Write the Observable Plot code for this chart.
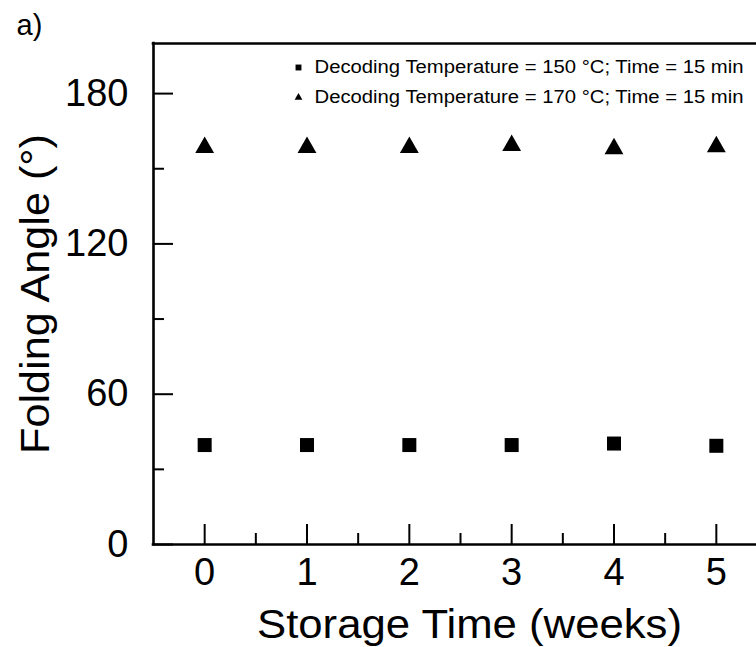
<!DOCTYPE html>
<html><head><meta charset="utf-8">
<script src="https://cdn.jsdelivr.net/npm/d3@7"></script>
<script src="https://cdn.jsdelivr.net/npm/@observablehq/plot@0.6"></script>
<style>
html,body{margin:0;padding:0;background:#fff;overflow:hidden;}
#wrap{position:relative;width:756px;height:647px;overflow:hidden;font-family:"Liberation Sans",Arial,sans-serif;}
#wrap svg{max-width:none !important;}
</style></head><body><div id="wrap"></div>
<script>
// ---- data ----
const weeks = [0, 1, 2, 3, 4, 5];
const angle150 = [39.7, 39.7, 39.7, 39.7, 40.3, 39.4];
const angle170 = [158.5, 158.5, 158.5, 159.3, 158.0, 158.8];
const seriesLabels = [
  "Decoding Temperature = 150 \u00B0C; Time = 15 min",
  "Decoding Temperature = 170 \u00B0C; Time = 15 min"
];
const xTicks = [0, 1, 2, 3, 4, 5];
const xMinorTicks = [0.5, 1.5, 2.5, 3.5, 4.5, 5.5];
const yTicks = [0, 60, 120, 180];
const yMinorTicks = [30, 90, 150];
const xTitle = "Storage Time (weeks)";
const yTitle = "Folding Angle (\u00B0)";
const panelTag = "a)";

// ---- layout ----
const W = 767, H = 647, mL = 153, mR = 0, mT = 43, mB = 103;
const xDom = [-0.5, 5.5], yDom = [0, 200];
const pxX = (W - mL - mR) / (xDom[1] - xDom[0]);
const pxY = (H - mT - mB) / (yDom[1] - yDom[0]);
const xAt = px => xDom[0] + (px - mL) / pxX;
const yAt = px => yDom[0] + (H - mB - px) / pxY;

const pts150 = weeks.map((w, i) => ({w, v: angle150[i]}));
const pts170 = weeks.map((w, i) => ({w, v: angle170[i]}));
const legend = [
  {label: seriesLabels[0], symbol: "square", r: 6.4, py: 67},
  {label: seriesLabels[1], symbol: "triangle", r: 4.8, py: 97}
];

const majLen = 20, minLen = 11;
const F = "Liberation Sans, Arial, sans-serif";

const chart = Plot.plot({
  width: W, height: H,
  marginLeft: mL, marginRight: mR, marginTop: mT, marginBottom: mB,
  style: {fontFamily: F, background: "white", color: "black", overflow: "visible", maxWidth: "none"},
  x: {domain: xDom, axis: null},
  y: {domain: yDom, axis: null},
  marks: [
    // tick labels
    Plot.axisX(xTicks, {tickSize: 0, tickPadding: 14, fontSize: 38, label: null}),
    Plot.axisY(yTicks, {tickSize: 0, tickPadding: 25, fontSize: 38, label: null}),
    // inward ticks
    Plot.ruleX(xTicks, {x: d => d, y1: yDom[0], y2: yDom[0] + majLen / pxY, stroke: "black", strokeWidth: 2}),
    Plot.ruleX(xMinorTicks, {x: d => d, y1: yDom[0], y2: yDom[0] + minLen / pxY, stroke: "black", strokeWidth: 2}),
    Plot.ruleY(yTicks, {y: d => d, x1: xDom[0], x2: xDom[0] + majLen / pxX, stroke: "black", strokeWidth: 2}),
    Plot.ruleY(yMinorTicks, {y: d => d, x1: xDom[0], x2: xDom[0] + minLen / pxX, stroke: "black", strokeWidth: 2}),
    // frame (right side off-canvas)
    Plot.ruleY([yDom[0], yDom[1]], {stroke: "black", strokeWidth: 2.6, strokeLinecap: "square"}),
    Plot.ruleX([xDom[0]], {stroke: "black", strokeWidth: 2.6, strokeLinecap: "square"}),
    // data
    Plot.dot(pts150, {x: "w", y: "v", symbol: "square", r: 7.9, fill: "black", stroke: "none"}),
    Plot.dot(pts170, {x: "w", y: "v", symbol: "triangle", r: 7, fill: "black", stroke: "none"}),
    // legend
    Plot.dot(legend, {x: () => xAt(298), y: d => yAt(d.py), symbol: "symbol", r: "r", fill: "black", stroke: "none"}),
    Plot.text(legend, {x: () => xAt(314), y: d => yAt(d.py), text: "label", textAnchor: "start", lineAnchor: "middle", fontSize: 18, fill: "black"}),
    // titles
    Plot.text([xTitle], {frameAnchor: "bottom", textAnchor: "middle", dx: 9, dy: 81, lineAnchor: "middle", fontSize: 40, fill: "black"}),
    Plot.text([yTitle], {frameAnchor: "left", textAnchor: "middle", dx: -118, dy: 0, rotate: -90, lineAnchor: "middle", fontSize: 41, fill: "black"}),
    Plot.text([panelTag], {frameAnchor: "top-left", dx: -137, dy: -18, textAnchor: "start", lineAnchor: "middle", fontSize: 29, fill: "black"})
  ]
});
chart.style.maxWidth = "none";
document.getElementById("wrap").appendChild(chart);

// stretch texts to the reference's widths
const fit = (txt, len) => d3.select(chart).selectAll("text")
  .filter(function () { return this.textContent === txt; })
  .attr("textLength", len).attr("lengthAdjust", "spacingAndGlyphs");
fit(seriesLabels[0], 429);
fit(seriesLabels[1], 429);
fit(xTitle, 425);
fit(yTitle, 320);
</script></body></html>
